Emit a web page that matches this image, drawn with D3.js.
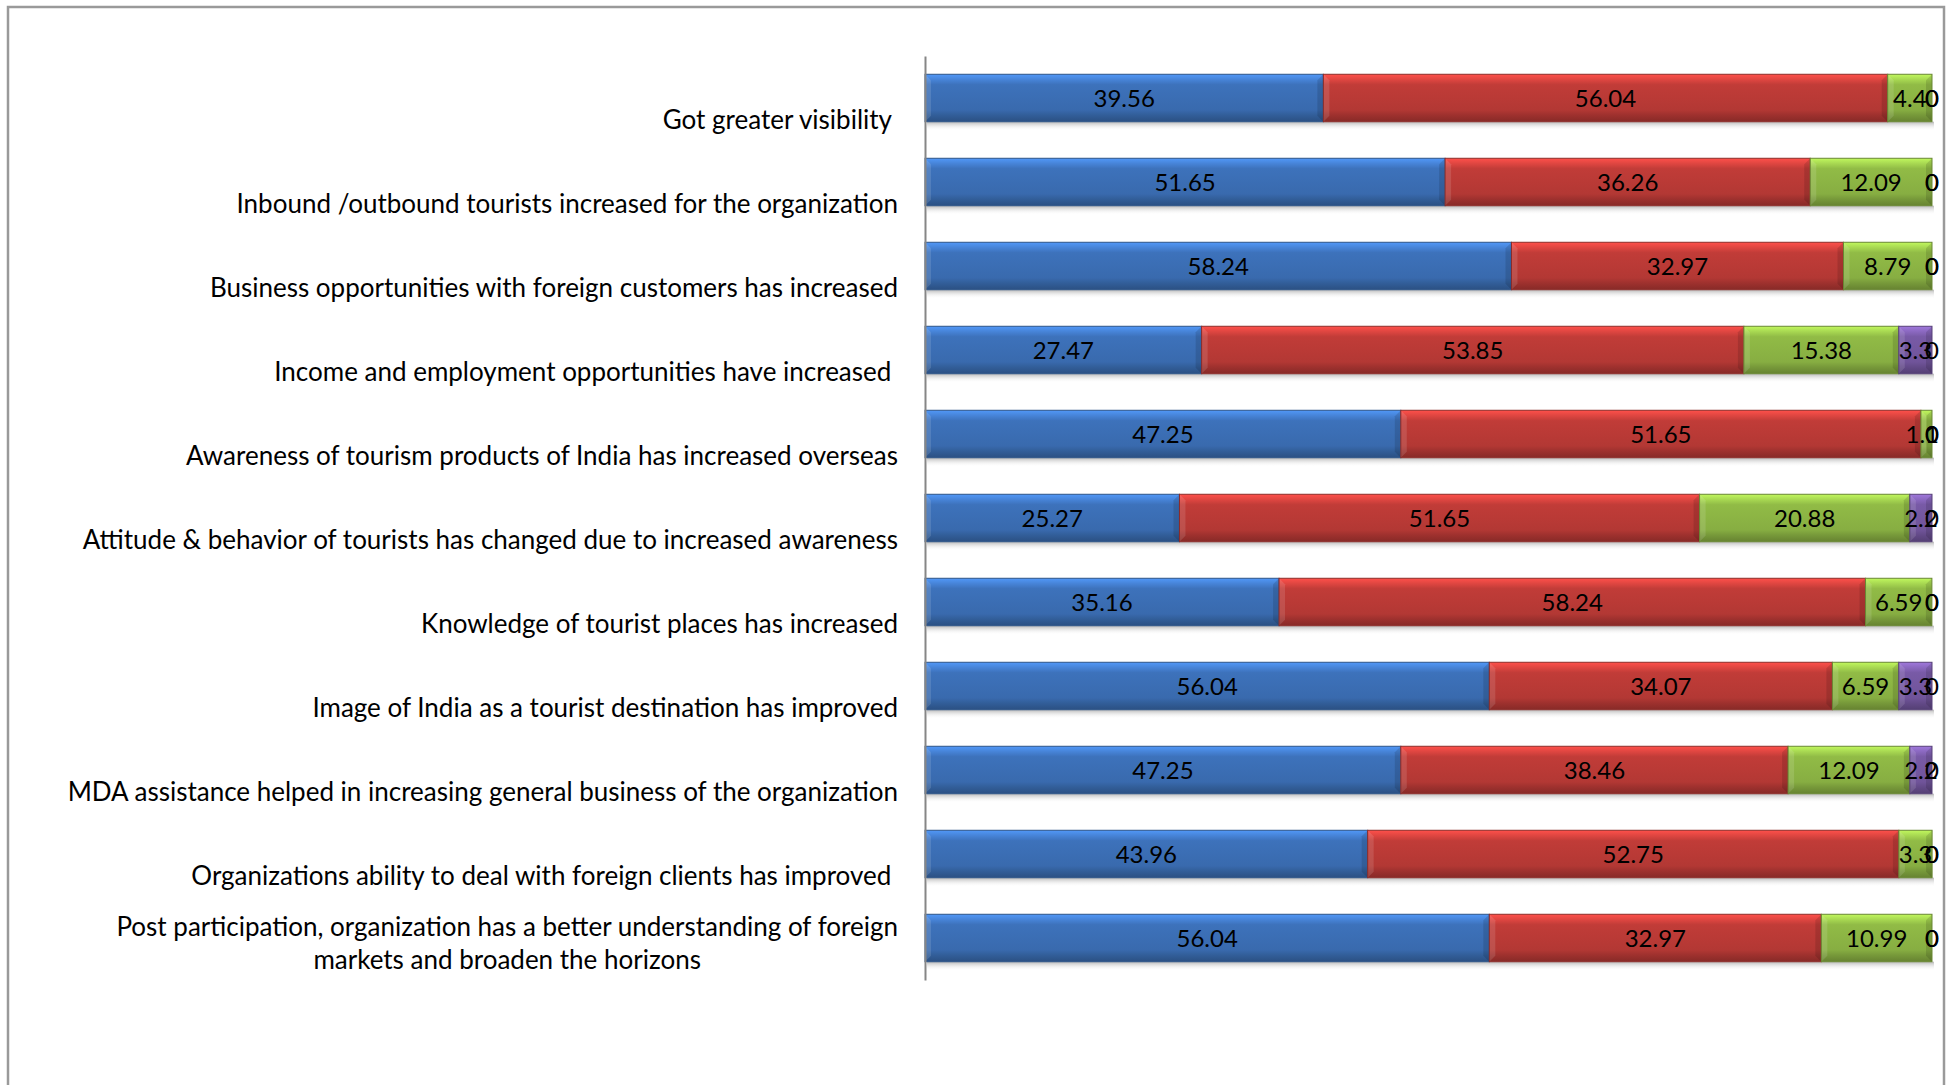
<!DOCTYPE html>
<html>
<head>
  <meta charset="UTF-8">
  <title>MDA participation outcomes</title>
  <script src="https://d3js.org/d3.v7.min.js"></script>
  <style>
    body { margin: 0; background: #fff; }
    text { font-family: Lato, "Noto Sans", sans-serif; fill: #000; }
    .cat { white-space: pre; }
  </style>
</head>
<body>
  <svg id="chart" width="1950" height="1085"></svg>

  <script>
    // categories, top to bottom
    const categories = [
      "Got greater visibility ",
      "Inbound /outbound tourists increased for the organization",
      "Business opportunities with foreign customers has increased",
      "Income and employment opportunities have increased ",
      "Awareness of tourism products of India has increased overseas",
      "Attitude & behavior of tourists has changed due to increased awareness",
      "Knowledge of tourist places has increased",
      "Image of India as a tourist destination has improved",
      "MDA assistance helped in increasing general business of the organization",
      "Organizations ability to deal with foreign clients has improved ",
      "Post participation, organization has a better understanding of foreign\nmarkets and broaden the horizons"
    ];

    const seriesNames = ["Strongly agree", "Agree", "Neutral", "Disagree", "Strongly disagree"];
    const stronglyAgree    = [39.56, 51.65, 58.24, 27.47, 47.25, 25.27, 35.16, 56.04, 47.25, 43.96, 56.04];
    const agree            = [56.04, 36.26, 32.97, 53.85, 51.65, 51.65, 58.24, 34.07, 38.46, 52.75, 32.97];
    const neutral          = [4.4, 12.09, 8.79, 15.38, 1.1, 20.88, 6.59, 6.59, 12.09, 3.3, 10.99];
    const disagree         = [0, 0, 0, 3.3, 0, 2.2, 0, 3.3, 2.2, 0, 0];
    const stronglyDisagree = [0, 0, 0, 0, 0, 0, 0, 0, 0, 0, 0];

    const colors = ["#3b6eb4", "#ba3a36", "#8cb444", "#7457a0", "#3fa0bb"];

    const seriesValues = [stronglyAgree, agree, neutral, disagree, stronglyDisagree];
    const table = categories.map((c, i) => {
      const row = { category: c };
      seriesNames.forEach((s, j) => row[s] = seriesValues[j][i]);
      return row;
    });

    const svg = d3.select("#chart");

    // outer frame
    svg.append("path")
      .attr("d", "M8,1090 L8,7 L1944,7 L1944,1090")
      .attr("fill", "none")
      .attr("stroke", "#9a9a9a")
      .attr("stroke-width", 2.5);

    const xScale = d3.scaleLinear([0, 100], [925, 1932]);
    const yScale = d3.scaleBand(categories, [56, 980])
                     .paddingInner(0.435)
                     .paddingOuter(0.2175);

    const stack = d3.stack().keys(seriesNames);
    const stacked = stack(table);

    // gradients for the bevelled look
    const defs = svg.append("defs");
    colors.forEach((c, i) => {
      const base = d3.color(c);
      const g = defs.append("linearGradient")
        .attr("id", "grad" + i)
        .attr("x1", 0).attr("x2", 0).attr("y1", 0).attr("y2", 1);
      g.append("stop").attr("offset", "0").attr("stop-color", base.brighter(0.9));
      g.append("stop").attr("offset", "0.1").attr("stop-color", base.brighter(0.55));
      g.append("stop").attr("offset", "0.22").attr("stop-color", base.brighter(0.1));
      g.append("stop").attr("offset", "0.75").attr("stop-color", base.darker(0.1));
      g.append("stop").attr("offset", "0.86").attr("stop-color", base.darker(0.45));
      g.append("stop").attr("offset", "1").attr("stop-color", base.darker(0.9));
    });
    const sh = defs.append("linearGradient")
      .attr("id", "shadow")
      .attr("x1", 0).attr("x2", 0).attr("y1", 0).attr("y2", 1);
    sh.append("stop").attr("offset", "0").attr("stop-color", "#b8b8b8");
    sh.append("stop").attr("offset", "1").attr("stop-color", "#ffffff").attr("stop-opacity", 0);

    // shadows under each bar
    svg.append("g").selectAll("rect")
      .data(categories)
      .join("rect")
      .attr("x", xScale(0) + 2)
      .attr("y", d => yScale(d) + yScale.bandwidth())
      .attr("width", xScale(100) - xScale(0))
      .attr("height", 9)
      .attr("fill", "url(#shadow)");

    const bw = yScale.bandwidth();
    const bev = 6;

    const layers = svg.append("g").selectAll("g.layer")
      .data(stacked)
      .join("g")
      .attr("class", "layer");

    const segs = layers.selectAll("g.seg")
      .data((d, i) => d.map(p => ({ x0: p[0], x1: p[1], cat: p.data.category, ci: i })))
      .join("g")
      .attr("class", "seg");

    segs.filter(d => d.x1 > d.x0).each(function(d) {
      const g = d3.select(this);
      const x0 = xScale(d.x0), x1 = xScale(d.x1);
      const y0 = yScale(d.cat), y1 = y0 + bw;
      const b = Math.min(bev, (x1 - x0) / 2);
      g.append("rect")
        .attr("x", x0).attr("y", y0)
        .attr("width", x1 - x0).attr("height", bw)
        .attr("fill", "url(#grad" + d.ci + ")");
      // facets
      g.append("polygon")
        .attr("points", [[x0, y0], [x0 + b, y0 + b], [x0 + b, y1 - b], [x0, y1]].join(" "))
        .attr("fill", "#fff").attr("opacity", 0.12);
      g.append("polygon")
        .attr("points", [[x1, y0], [x1 - b, y0 + b], [x1 - b, y1 - b], [x1, y1]].join(" "))
        .attr("fill", "#000").attr("opacity", 0.12);
      g.append("rect")
        .attr("x", x0).attr("y", y0)
        .attr("width", x1 - x0).attr("height", bw)
        .attr("fill", "none")
        .attr("stroke", d3.color(colors[d.ci]).darker(0.8))
        .attr("stroke-width", 1);
    });

    // value labels
    const valueLabels = svg.append("g");
    stacked.forEach(layer => {
      layer.forEach(p => {
        const v = p[1] - p[0];
        const t = valueLabels.append("text")
          .attr("x", xScale((p[0] + p[1]) / 2))
          .attr("y", yScale(p.data.category) + bw / 2)
          .attr("dy", "0.36em")
          .attr("text-anchor", "middle")
          .style("font-size", "24px")
          .text(String(+v.toFixed(2)));
        const w = t.node().getComputedTextLength();
        const cx = +t.attr("x");
        if (cx + w / 2 > 1939) t.attr("x", 1939 - w / 2);
      });
    });

    // axis line (no ticks)
    svg.append("g")
      .attr("transform", `translate(${xScale(0)},0)`)
      .call(d3.axisLeft(yScale).tickSize(0).tickFormat(""))
      .select(".domain")
      .attr("stroke", "#868686")
      .attr("stroke-width", 2);

    // category labels: right aligned, last line sits below the bar centre
    const labelRight = 898;
    const lineH = 33.6;
    const catG = svg.append("g");
    categories.forEach(c => {
      const lines = c.split("\n");
      const yc = yScale(c) + bw / 2 + 22;
      const first = catG.append("text")
        .attr("class", "cat")
        .attr("x", labelRight)
        .attr("y", yc - (lines.length - 1) * lineH)
        .attr("dy", "0.36em")
        .attr("text-anchor", "end")
        .style("font-size", "26px")
        .text(lines[0]);
      if (lines.length > 1) {
        const w0 = first.node().getComputedTextLength();
        lines.slice(1).forEach((ln, k) => {
          catG.append("text")
            .attr("class", "cat")
            .attr("x", labelRight - w0 / 2)
            .attr("y", yc - (lines.length - 2 - k) * lineH)
            .attr("dy", "0.36em")
            .attr("text-anchor", "middle")
            .style("font-size", "26px")
            .text(ln);
        });
      }
    });
  </script>
</body>
</html>
